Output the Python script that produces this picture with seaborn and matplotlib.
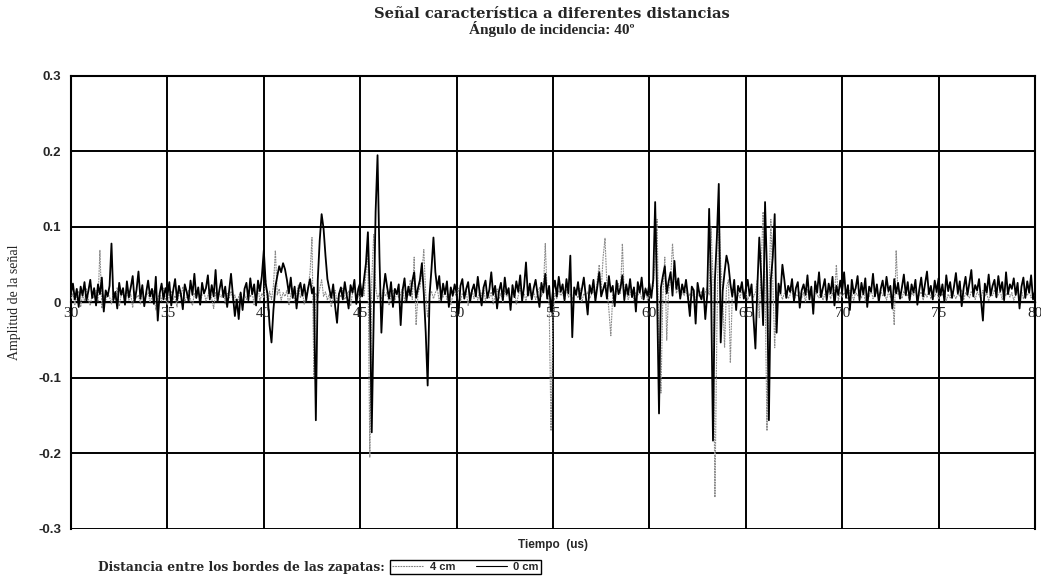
import numpy as np
import pandas as pd
import matplotlib
matplotlib.use("Agg")
import matplotlib.pyplot as plt
from matplotlib.spines import Spine
from matplotlib.lines import Line2D
import seaborn as sns

# ---------------- data ----------------
t_start, t_stop, t_step = 30.0, 80.0, 0.1
x_ticks = [30, 35, 40, 45, 50, 55, 60, 65, 70, 75, 80]
y_ticks = [-0.3, -0.2, -0.1, 0.0, 0.1, 0.2, 0.3]
series_names = ["4 cm", "0 cm"]

# 0 cm (black) signal, one row per microsecond (t = k.0 ... k.9), then 80.0
signal_0cm = [
    0.012, 0.025, 0.004, 0.018, -0.006, 0.021, 0.009, 0.027, 0.002, 0.015,
    0.030, 0.006, 0.019, -0.004, 0.024, 0.011, 0.033, -0.012, 0.016, 0.008,
    0.022, 0.078, 0.003, 0.014, -0.008, 0.026, 0.010, 0.019, -0.003, 0.028,
    0.007, 0.020, 0.035, 0.001, 0.017, 0.041, 0.005, 0.023, -0.005, 0.013,
    0.029, 0.008, 0.018, -0.002, 0.034, -0.024, 0.012, 0.025, 0.004, 0.019,
    0.009, 0.027, -0.004, 0.016, 0.031, 0.003, 0.022, 0.011, -0.009, 0.024,
    0.014, 0.002, 0.029, 0.010, 0.038, 0.006, 0.020, -0.003, 0.026, 0.012,
    0.019, 0.036, 0.004, 0.023, 0.008, 0.043, 0.001, 0.017, 0.030, 0.007,
    0.021, -0.006, 0.015, 0.038, 0.009, -0.018, 0.004, -0.022, 0.013, -0.010,
    0.018, 0.026, 0.003, 0.032, 0.011, 0.024, -0.004, 0.029, 0.015, 0.035,
    0.069, 0.025, 0.010, -0.030, -0.053, -0.010, 0.021, 0.035, 0.048, 0.040,
    0.052, 0.044, 0.030, 0.012, 0.033, 0.006, 0.021, -0.008, 0.017, 0.026,
    0.009, 0.024, 0.003, 0.019, 0.031, 0.012, 0.020, -0.156, 0.030, 0.082,
    0.117, 0.098, 0.062, 0.031, 0.018, 0.006, 0.024, -0.005, -0.027, 0.011,
    0.020, 0.004, 0.027, 0.010, -0.008, 0.023, 0.013, 0.030, -0.002, 0.018,
    0.026, 0.008, 0.031, 0.052, 0.093, 0.010, -0.172, -0.020, 0.120, 0.195,
    0.060, -0.040, 0.015, 0.038, 0.020, 0.005, 0.027, -0.006, 0.018, 0.011,
    0.024, -0.030, 0.016, 0.032, 0.002, 0.021, 0.009, 0.028, 0.040, 0.006,
    0.019, 0.030, 0.052, 0.012, -0.040, -0.110, 0.010, 0.045, 0.086, 0.040,
    0.018, 0.035, 0.003, 0.025, 0.011, 0.028, -0.006, 0.020, 0.009, 0.024,
    0.013, -0.015, 0.022, 0.031, 0.005, 0.018, 0.027, 0.001, 0.016, 0.024,
    0.008, 0.034, 0.012, -0.004, 0.020, 0.029, 0.006, 0.017, 0.040, 0.010,
    0.022, -0.008, 0.015, 0.026, 0.003, 0.033, 0.011, 0.019, -0.010, 0.023,
    0.007, 0.028, 0.014, 0.036, 0.002, 0.021, 0.053, 0.009, 0.025, 0.004,
    0.019, 0.030, 0.011, -0.006, 0.026, 0.013, 0.038, 0.005, 0.022, -0.012,
    0.016, 0.029, 0.008, 0.034, 0.014, 0.024, 0.003, 0.031, 0.012, 0.062,
    -0.046, 0.020, 0.010, 0.027, 0.004, 0.018, 0.033, 0.009, -0.016, 0.023,
    0.012, 0.030, 0.002, 0.021, 0.040, 0.008, 0.017, 0.026, 0.005, 0.035,
    0.014, 0.022, -0.005, 0.029, 0.011, 0.019, 0.036, 0.003, 0.024, 0.010,
    0.031, 0.007, 0.020, -0.012, 0.027, 0.013, 0.033, 0.004, 0.018, 0.009,
    0.025, 0.006, 0.030, 0.133, 0.010, -0.147, 0.020, 0.035, 0.048, 0.012,
    0.028, 0.040, 0.009, 0.055, 0.018, 0.032, 0.005, 0.024, 0.013, 0.030,
    0.008, -0.018, 0.021, 0.016, -0.028, 0.026, 0.011, 0.004, 0.019, -0.022,
    0.010, 0.124, 0.020, -0.183, 0.030, 0.085, 0.157, -0.053, 0.015, 0.040,
    0.062, 0.050, 0.025, 0.008, 0.030, -0.010, 0.022, 0.014, 0.027, 0.005,
    0.018, 0.030, 0.009, 0.024, -0.020, -0.061, 0.020, 0.086, 0.035, -0.030,
    0.133, 0.040, -0.156, 0.030, 0.060, 0.117, -0.040, 0.025, 0.012, 0.050,
    0.030, 0.006, 0.022, 0.014, 0.031, 0.002, 0.019, 0.027, -0.007, 0.016,
    0.024, 0.010, 0.036, 0.004, 0.021, -0.015, 0.028, 0.013, 0.040, 0.007,
    0.019, 0.031, 0.003, 0.025, 0.012, 0.034, -0.004, 0.022, 0.010, 0.029,
    0.015, 0.040, 0.006, 0.023, -0.010, 0.030, 0.012, 0.019, 0.035, 0.003,
    0.026, 0.011, 0.032, -0.006, 0.021, 0.014, 0.038, 0.008, 0.024, 0.001,
    0.018, 0.029, 0.009, 0.034, 0.015, 0.022, -0.008, 0.031, 0.012, 0.026,
    0.005, 0.020, 0.037, 0.010, 0.027, 0.003, 0.024, 0.013, 0.030, -0.003,
    0.017, 0.033, 0.008, 0.025, 0.041, 0.011, 0.022, 0.004, 0.029, 0.014,
    0.032, 0.009, 0.024, 0.002, 0.036, 0.015, 0.027, 0.006, 0.021, 0.039,
    0.012, 0.028, -0.005, 0.019, 0.034, 0.010, 0.026, 0.043, 0.008, 0.023,
    0.016, 0.031, 0.004, -0.024, 0.025, 0.013, 0.037, 0.009, 0.022, 0.030,
    0.007, 0.035, 0.015, 0.027, 0.003, 0.040, 0.011, 0.024, 0.018, 0.032,
    0.010, 0.026, -0.008, 0.021, 0.033, 0.006, 0.028, 0.013, 0.036, 0.004,
    0.015,
]

# 4 cm (grey) signal, same sampling
signal_4cm = [
    0.005, 0.012, -0.003, 0.009, 0.015, -0.006, 0.010, 0.002, 0.018, 0.004,
    -0.004, 0.011, 0.006, 0.016, 0.001, 0.069, -0.008, 0.010, 0.003, 0.013,
    0.007, -0.002, 0.014, 0.004, 0.020, -0.005, 0.009, 0.012, 0.001, 0.016,
    0.003, 0.011, -0.007, 0.015, 0.006, 0.010, -0.002, 0.018, 0.004, 0.009,
    0.013, 0.000, 0.008, 0.016, -0.010, 0.006, 0.012, 0.002, 0.019, 0.005,
    -0.003, 0.010, 0.015, 0.004, 0.009, -0.006, 0.014, 0.007, 0.021, 0.001,
    0.008, 0.016, 0.003, -0.004, 0.012, 0.006, 0.017, 0.000, 0.010, 0.014,
    0.002, 0.009, 0.018, 0.005, -0.008, 0.013, 0.004, 0.011, 0.007, 0.016,
    -0.002, 0.012, 0.006, 0.015, 0.003, 0.010, -0.005, 0.008, 0.014, 0.001,
    0.011, 0.004, 0.017, 0.007, 0.013, -0.003, 0.009, 0.020, 0.002, 0.012,
    0.006, 0.030, -0.010, 0.015, 0.004, 0.022, 0.069, 0.010, 0.018, 0.003,
    0.013, 0.008, 0.016, -0.004, 0.011, 0.019, 0.002, 0.010, 0.024, 0.006,
    0.015, -0.003, 0.010, 0.020, 0.040, 0.086, -0.100, 0.012, 0.006, 0.018,
    0.030, 0.008, 0.014, 0.003, 0.011, -0.006, 0.009, 0.016, 0.002, 0.012,
    0.007, 0.019, 0.004, 0.010, 0.015, -0.005, 0.012, 0.021, 0.006, 0.011,
    0.003, 0.016, 0.009, 0.040, 0.070, -0.205, 0.030, 0.090, 0.020, 0.005,
    0.012, 0.004, 0.018, 0.008, 0.014, -0.004, 0.010, 0.017, 0.003, 0.013,
    0.006, 0.011, 0.020, 0.002, 0.015, 0.009, 0.030, 0.004, 0.060, -0.030,
    0.012, 0.020, 0.040, 0.070, 0.010, -0.020, 0.008, 0.015, 0.005, 0.013,
    0.018, 0.002, 0.011, 0.007, 0.016, 0.004, 0.012, -0.003, 0.009, 0.014,
    0.006, 0.019, 0.001, 0.012, 0.008, 0.015, -0.004, 0.010, 0.017, 0.005,
    0.013, 0.003, 0.016, 0.009, 0.021, 0.002, 0.011, 0.006, 0.014, -0.002,
    0.010, 0.018, 0.005, 0.012, 0.001, 0.016, 0.008, 0.013, 0.004, 0.011,
    0.015, -0.003, 0.009, 0.019, 0.006, 0.012, 0.002, 0.017, 0.010, 0.007,
    0.014, 0.004, 0.011, 0.020, 0.008, 0.015, 0.078, 0.010, 0.000, -0.170,
    -0.020, 0.012, 0.005, 0.016, 0.009, 0.013, 0.002, 0.018, 0.007, 0.011,
    0.004, 0.015, 0.010, 0.006, 0.019, 0.001, 0.012, 0.008, 0.014, 0.005,
    0.011, 0.017, 0.003, 0.030, 0.050, 0.015, 0.060, 0.085, 0.020, -0.010,
    -0.044, 0.010, 0.006, 0.015, 0.025, 0.012, 0.078, 0.008, 0.014, 0.004,
    0.011, 0.018, 0.002, 0.013, 0.009, 0.016, 0.005, 0.012, 0.020, 0.003,
    0.010, 0.015, 0.020, 0.060, 0.110, -0.060, -0.120, 0.010, 0.060, -0.050,
    0.015, 0.030, 0.078, 0.040, 0.012, 0.020, 0.006, 0.014, 0.009, 0.016,
    0.004, 0.012, 0.007, 0.017, 0.002, 0.011, 0.008, 0.015, 0.005, 0.013,
    0.020, 0.010, 0.100, 0.030, -0.258, -0.040, 0.120, 0.050, 0.010, -0.060,
    0.020, 0.030, -0.080, 0.010, 0.015, 0.004, 0.012, 0.006, 0.017, 0.009,
    0.014, 0.003, 0.011, 0.018, 0.007, 0.013, 0.030, -0.020, 0.050, 0.120,
    0.020, -0.170, 0.010, 0.110, 0.030, -0.060, 0.015, 0.008, 0.013, 0.004,
    0.012, 0.016, 0.005, 0.010, 0.019, 0.002, 0.011, 0.008, 0.014, 0.006,
    0.013, 0.001, 0.017, 0.009, 0.012, 0.004, 0.015, 0.010, 0.006, 0.018,
    0.003, 0.011, 0.008, 0.016, 0.005, 0.012, 0.009, 0.050, 0.002, 0.014,
    0.007, 0.013, 0.010, 0.004, 0.016, 0.011, 0.003, 0.014, 0.009, 0.012,
    0.006, 0.015, 0.001, 0.012, 0.008, 0.017, 0.005, 0.011, 0.013, 0.004,
    0.016, 0.009, 0.012, 0.003, 0.014, 0.007, 0.010, -0.030, 0.069, 0.010,
    0.012, 0.005, 0.015, 0.008, 0.011, 0.002, 0.013, 0.009, 0.016, 0.006,
    0.010, 0.014, 0.003, 0.012, 0.007, 0.017, 0.005, 0.011, 0.008, 0.015,
    0.004, 0.013, 0.009, 0.016, 0.002, 0.011, 0.006, 0.014, 0.010, 0.005,
    0.012, 0.008, 0.017, 0.003, 0.013, 0.009, 0.006, 0.015, 0.011, 0.004,
    0.014, 0.010, 0.005, 0.016, 0.008, 0.012, 0.002, 0.013, 0.009, 0.017,
    0.006, 0.011, 0.015, 0.004, 0.012, 0.009, 0.016, 0.007, 0.013, 0.003,
    0.010, 0.014, 0.008, 0.017, 0.005, 0.012, 0.009, 0.015, 0.006, 0.011,
    0.008,
]

# --------------- figure ---------------
sns.set_style("white")
plt.rcParams["font.family"] = ["Liberation Sans", "DejaVu Sans"]

time = np.round(np.arange(len(signal_0cm)) * t_step + t_start, 1)
df = pd.DataFrame({"t": np.concatenate([time, time]),
                   "amp": np.concatenate([signal_4cm, signal_0cm]),
                   "serie": [series_names[0]] * len(time) + [series_names[1]] * len(time)})

fig = plt.figure(figsize=(10.41, 5.82), dpi=100)
ax = fig.add_axes([0.0682, 0.0911, 0.9260, 0.7784])

sns.lineplot(data=df[df.serie == "4 cm"], x="t", y="amp", ax=ax, color="#8c8c8c",
             lw=0.8, linestyle=(0, (1.6, 0.8)), estimator=None, sort=False, legend=False, zorder=3)
sns.lineplot(data=df[df.serie == "0 cm"], x="t", y="amp", ax=ax, color="black",
             lw=1.3, estimator=None, sort=False, legend=False, zorder=4)

ax.set_xlim(t_start, t_stop)
ax.set_ylim(y_ticks[0], y_ticks[-1])

# grid
ax.set_axisbelow(True)
ax.grid(True, color="black", lw=1.4)

# frame: bottom spine moved to zero (x axis crosses at 0), extra bottom border
ax.spines["bottom"].set_position(("data", 0))
ax.spines["bottom"].set_linewidth(1.0)
frame_bottom = Spine.linear_spine(ax, "bottom")
ax.spines["frame_bottom"] = frame_bottom
for name in ["left", "right", "top", "frame_bottom"]:
    ax.spines[name].set_color("black")
    ax.spines[name].set_linewidth(1.5)
    ax.spines[name].set_visible(True)

ax.set_xticks(x_ticks)
ax.set_xticklabels([str(v) for v in x_ticks], fontfamily="Liberation Serif", fontsize=11)
ax.tick_params(axis="x", length=3, width=1, direction="out", pad=0.5, color="black")

ax.set_yticks(y_ticks)
ax.set_yticklabels(["0" if abs(v) < 1e-9 else f"{v:.1f}" for v in y_ticks],
                   fontweight="bold", fontsize=9.5)
ax.tick_params(axis="y", length=6, width=1, direction="inout", pad=4, color="black")

ax.set_xlabel("")
ax.set_ylabel("Amplitud de la señal", fontfamily="Liberation Serif", fontsize=10)
ax.yaxis.set_label_coords(-0.052, 0.5)

# titles
fig.text(0.530, 1 - 14 / 582, "Señal característica a diferentes distancias",
         ha="center", va="center", fontfamily="DejaVu Serif", fontweight="bold", fontsize=10.5)
fig.text(0.530, 1 - 29 / 582, "Ángulo de incidencia: 40º",
         ha="center", va="center", fontfamily="Liberation Serif", fontweight="bold", fontsize=11)
fig.text(0.531, 1 - 545 / 582, "Tiempo  (us)", ha="center", va="center",
         fontweight="bold", fontsize=8.5)

# legend
fig.text(98 / 1041, 1 - 567 / 582, "Distancia entre los bordes de las zapatas:",
         ha="left", va="center", fontfamily="DejaVu Serif", fontweight="bold", fontsize=8.8)
handles = [Line2D([], [], color="#808080", lw=0.8, linestyle=(0, (1.6, 0.8))),
           Line2D([], [], color="black", lw=0.8)]
leg = ax.legend(handles, series_names, loc="center left",
                bbox_to_anchor=(390 / 1041, 1 - 567 / 582), bbox_transform=fig.transFigure,
                ncol=2, frameon=True, fancybox=False, edgecolor="black", framealpha=1,
                borderpad=0.2, handlelength=2.8, handletextpad=0.6, columnspacing=1.8,
                borderaxespad=0, prop={"weight": "bold", "size": 8})
leg.get_frame().set_linewidth(1.0)

fig.savefig("out.png", dpi=100)
